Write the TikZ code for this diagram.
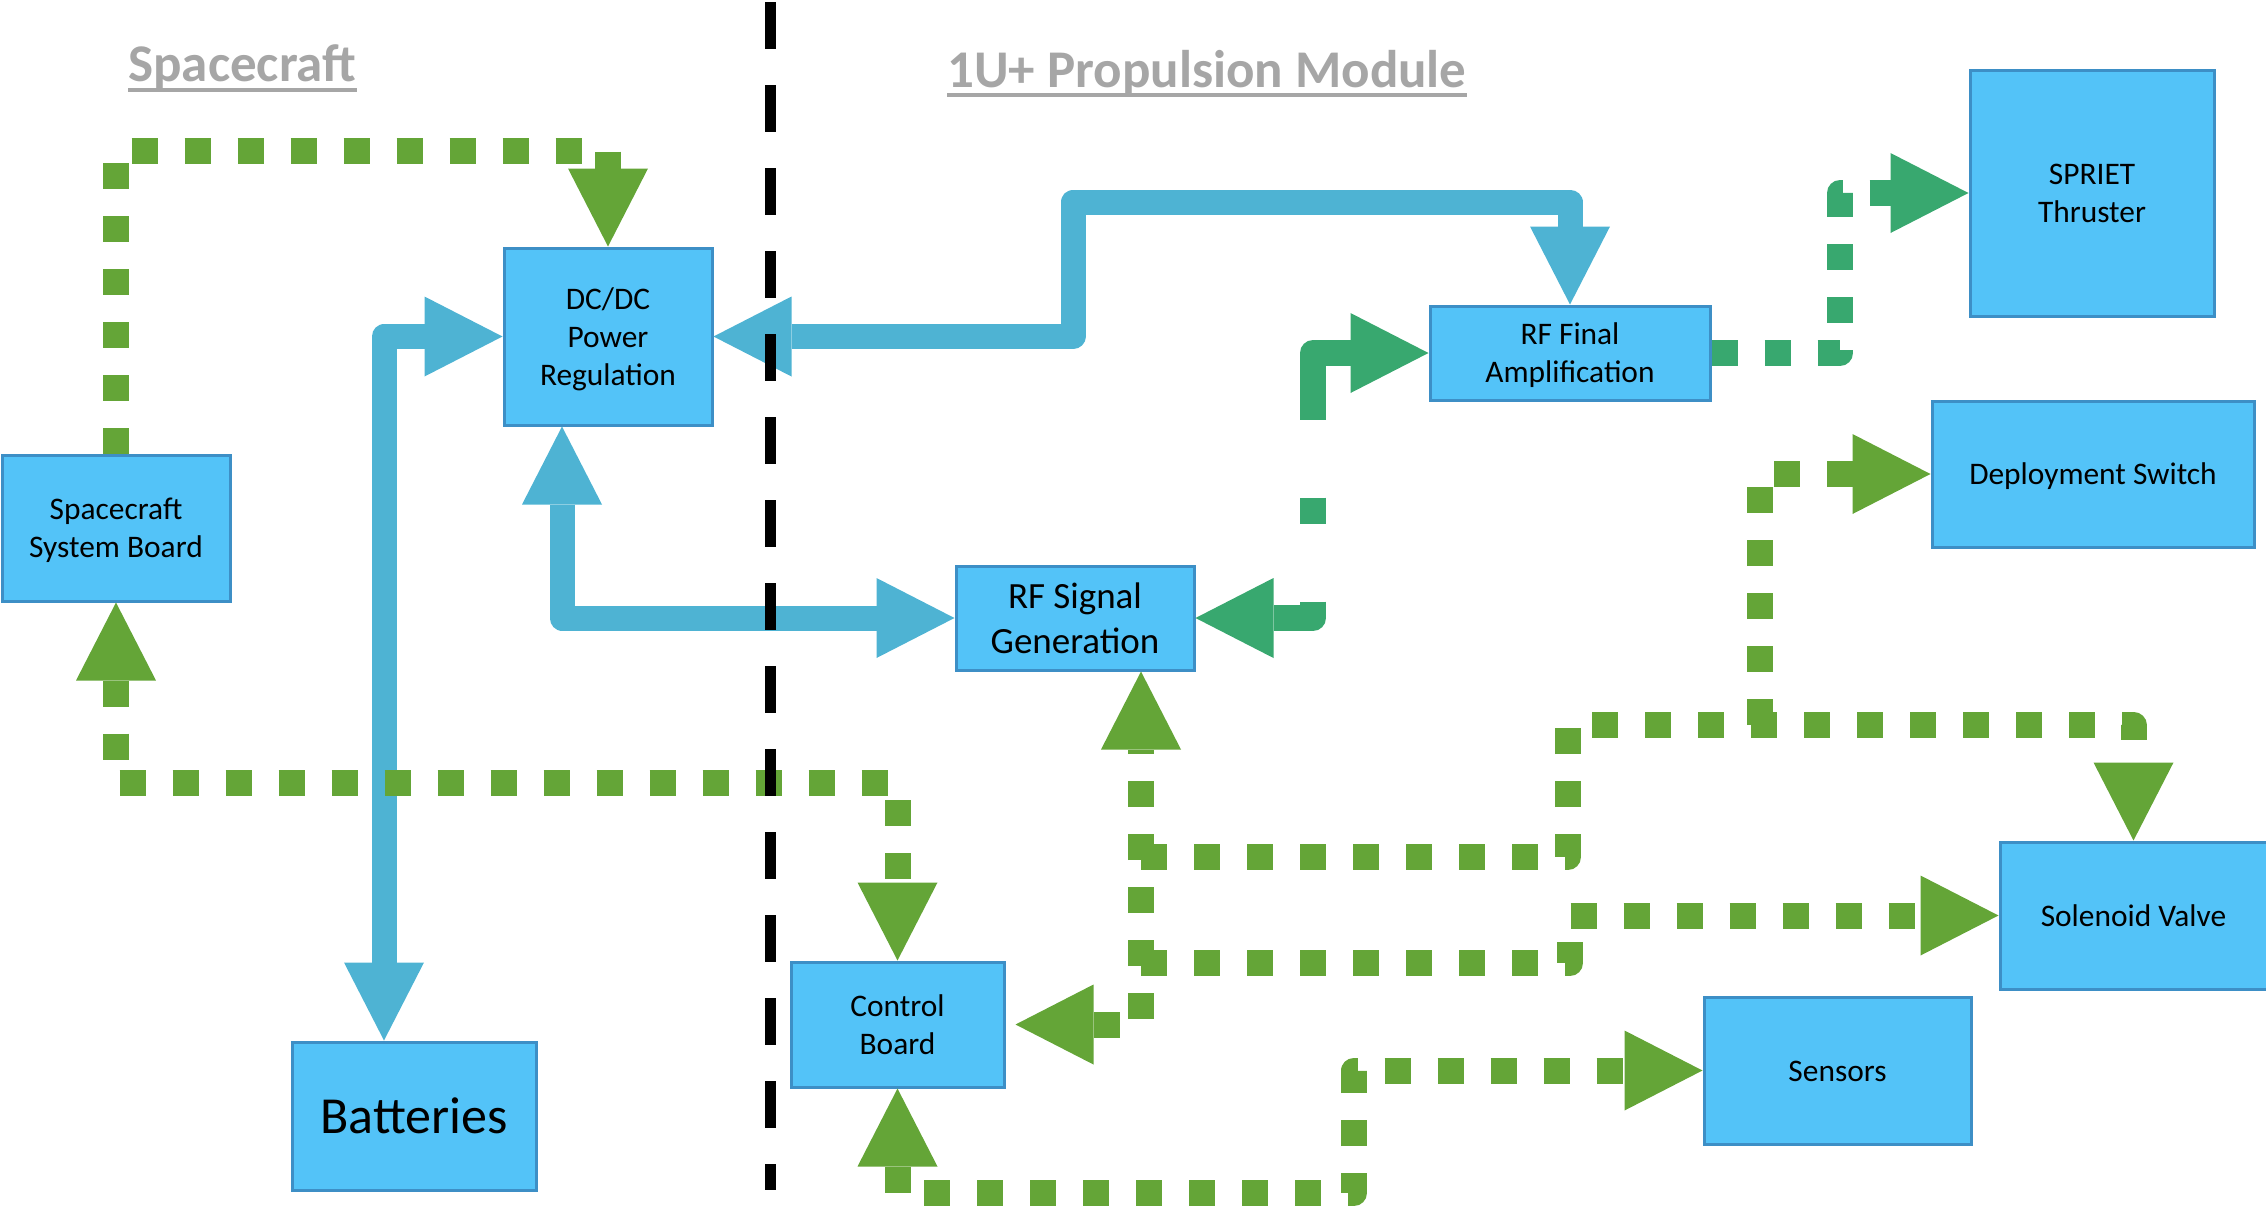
\documentclass[tikz,border=0pt]{standalone}
\usepackage{fontspec}
\setmainfont{Carlito}
\usetikzlibrary{arrows.meta}
\definecolor{boxfill}{RGB}{83,195,248}
\definecolor{boxline}{RGB}{61,143,198}
\definecolor{linkblue}{RGB}{78,179,211}
\definecolor{lgreen}{RGB}{100,165,55}
\definecolor{dgreen}{RGB}{56,168,111}
\definecolor{titlegray}{RGB}{166,166,166}
\newcommand\ts{\rule{0pt}{0.952em}}
\newcommand\tb{\rule[-0.269em]{0pt}{0pt}}
\begin{document}
\begin{tikzpicture}[x=0.5pt,y=-0.5pt,
  >={Triangle[length=39pt,width=40pt,line width=0pt]},
  box/.style={draw=boxline,fill=boxfill,line width=1.5pt,inner sep=0pt,align=center,font=\fontsize{15.7pt}{19pt}\selectfont},
  bluelink/.style={color=linkblue,line width=12.5pt,line join=round},
  lgreenlink/.style={color=lgreen,line width=13pt,line join=round,dash pattern=on 13pt off 13.5pt},
  dgreendot/.style={color=dgreen,line width=13pt,line join=round,dash pattern=on 13pt off 13.5pt},
  dgreenlong/.style={color=dgreen,line width=13pt,line join=round,dash pattern=on 52pt off 39pt on 13pt off 39pt},
  titletext/.style={text=titlegray,font=\fontsize{26.5pt}{32pt}\selectfont\bfseries,inner sep=0pt,anchor=base west},
  titleline/.style={draw=titlegray,line width=2.4pt},
  divider/.style={draw=black,line width=5.5pt,dash pattern=on 23.5pt off 18pt}
]
\useasboundingbox (0,0) rectangle (2266,1211);

% titles
\node[titletext] (t1) at (128,81.5) {Spacecraft};
\draw[titleline] ([yshift=-4.25pt]t1.base west) -- ([yshift=-4.25pt]t1.base east);
\node[titletext] (t2) at (947,87) {1U+ Propulsion Module};
\draw[titleline] ([yshift=-4pt]t2.base west) -- ([yshift=-4pt]t2.base east);

% boxes
\node[box,minimum width=114pt,minimum height=73pt] (ssb) at (116,528) {\ts Spacecraft\\System Board\tb};
\node[box,minimum width=104pt,minimum height=88.5pt] (dcdc) at (608,336.5) {\ts DC/DC\\Power\\Regulation\tb};
\node[box,minimum width=122pt,minimum height=74pt,font=\fontsize{26pt}{31pt}\selectfont] (bat) at (414,1116) {\ts Batteries\tb};
\node[box,minimum width=119pt,minimum height=52pt,font=\fontsize{18.5pt}{22.4pt}\selectfont] (rfs) at (1075,618) {\ts RF Signal\\Generation\tb};
\node[box,minimum width=106.5pt,minimum height=62.5pt] (cb) at (897.5,1024.5) {\ts Control\\Board\tb};
\node[box,minimum width=140pt,minimum height=47pt] (rff) at (1570,353) {\ts RF Final\\Amplification\tb};
\node[box,minimum width=122pt,minimum height=123pt] (spr) at (2092,193) {\ts SPRIET\\Thruster\tb};
\node[box,minimum width=161pt,minimum height=73pt] (dep) at (2093,474) {\ts Deployment Switch\tb};
\node[box,minimum width=133.5pt,minimum height=73.5pt] (sol) at (2133.5,915.5) {\ts Solenoid Valve\tb};
\node[box,minimum width=133.5pt,minimum height=73.5pt] (sen) at (1837.5,1070.5) {\ts Sensors\tb};

% helper coordinates
\coordinate (b1x) at (384,0);
\coordinate (b2x) at (562,0);
\coordinate (b3c) at (1073,202);
\coordinate (d1b) at (1313,618);
\coordinate (d2c) at (1840,193);
\coordinate (g1c) at (608,151);
\coordinate (g2c) at (897.5,783);
\coordinate (trunk) at (1141,0);
\coordinate (g4s) at (1141,857);
\coordinate (g4a) at (1568,725);
\coordinate (g5s) at (1141,963);
\coordinate (g5c) at (1570,915.5);
\coordinate (g6s) at (1760,725);
\coordinate (g7b) at (1354,1193);
\coordinate (divtop) at (770.5,2);
\coordinate (divbot) at (770.5,1190);

% blue power links
\draw[bluelink,<->] (bat.north -| b1x) |- (dcdc.west);
\draw[bluelink,<->] (dcdc.south -| b2x) |- (rfs.west);
\draw[bluelink,<->] (dcdc.east) -| (b3c) -| (rff.north);

% dark green RF links
\draw[dgreenlong,<->] (rff.west) -| (d1b) -- (rfs.east);
\draw[dgreendot,->] (rff.east) -| (d2c) -- (spr.west);

% light green control links
\draw[lgreenlink,->] (ssb.north) |- (g1c) -- (dcdc.north);
\draw[lgreenlink,<->] (ssb.south) |- (g2c) -- (cb.north);
\draw[lgreenlink,<->] ([xshift=5pt]cb.east) -| (rfs.south -| trunk);
\draw[lgreenlink,->] (g4s) -| (g4a) -| (sol.north);
\draw[lgreenlink,->] (g5s) -| (g5c) -- (sol.west);
\draw[lgreenlink,->] (g6s) |- (dep.west);
\draw[lgreenlink,<->] (cb.south) |- (g7b) |- (sen.west);

% divider
\draw[divider] (divtop) -- (divbot);
\end{tikzpicture}
\end{document}
